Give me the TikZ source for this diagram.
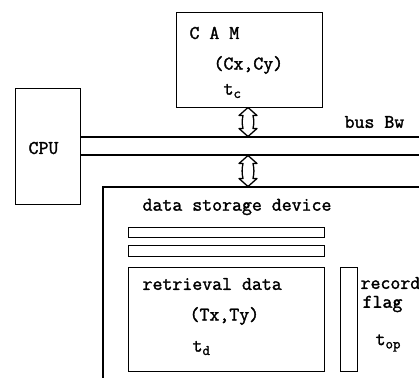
\documentclass[tikz,border=0pt]{standalone}
\usepackage{fontspec}
\newfontfamily\typefont[FakeBold=1.6]{Latin Modern Mono}
\newcommand\mysub[1]{\raisebox{-0.4ex}{\fontsize{14.5}{14.5}\selectfont\typefont\bfseries #1}}
\begin{document}
\begin{tikzpicture}[x=1pt,y=-1pt, line width=1.2pt,
 box/.style={draw, line width=1.3pt, inner sep=0pt, anchor=north west},
 lbl/.style={font=\fontsize{19.3}{21}\selectfont\typefont\bfseries, inner sep=0pt, anchor=west},
 arr/.style={draw, line width=1.3pt, line join=round}]
\useasboundingbox (0,0) rectangle (419,378);
\clip (0,0) rectangle (419,378);
% boxes
\node[box, minimum width=146pt, minimum height=95pt] (cam) at (176,12) {};
\node[box, minimum width=65pt, minimum height=116pt] (cpu) at (15,88) {};
\node[box, minimum width=196pt, minimum height=10pt] (bar1) at (128,227) {};
\node[box, minimum width=196pt, minimum height=11pt] (bar2) at (128,245) {};
\node[box, minimum width=196pt, minimum height=104pt] (ret) at (128,267) {};
\node[box, minimum width=17pt, minimum height=104pt] (flag) at (340,267) {};
% bus
\coordinate (bt) at (cpu.east |- 0,137);
\coordinate (bb) at (cpu.east |- 0,155);
\coordinate (btr) at (419,137);
\coordinate (bbr) at (419,155);
\draw (bt) -- (btr);
\draw (bb) -- (bbr);
% storage device outline
\coordinate (sr) at (419,187);
\coordinate (sl) at (103,187);
\coordinate (sb) at (103,378);
\draw (sr) -- (sl) -- (sb);
% double arrows
\newcommand\dblarr[3]{%
 \draw[arr] (#1,#2) -- (#1-9,#2+8) -- (#1-5,#2+8) to[bend right=12] (#1-5,#3-8) -- (#1-9,#3-8) -- (#1,#3)
 -- (#1+9,#3-8) -- (#1+5,#3-8) to[bend right=12] (#1+5,#2+8) -- (#1+9,#2+8) -- cycle;}
\dblarr{248}{107.5}{136.5}
\dblarr{248}{155.5}{186.5}
% labels
\node[lbl] (tcam) at (189,33) {C A M};
\node[lbl] (tcxy) at (213,65) {(Cx,Cy)};
\node[lbl] (ttc) at (223,91) {t\mysub{c}};
\node[lbl] (tbus) at (344,122) {bus Bw};
\node[lbl] (tcpu) at (28,148) {CPU};
\node[lbl] (tsd) at (142,207) {data storage device};
\node[lbl] (tret) at (142,284) {retrieval data};
\node[lbl] (ttxy) at (189,316) {(Tx,Ty)};
\node[lbl] (ttd) at (192,348) {t\mysub{d}};
\node[lbl] (trec) at (360,283) {record};
\node[lbl] (tfl) at (362,304) {flag};
\node[lbl] (ttop) at (375,343) {t\mysub{op}};
\end{tikzpicture}
\end{document}
